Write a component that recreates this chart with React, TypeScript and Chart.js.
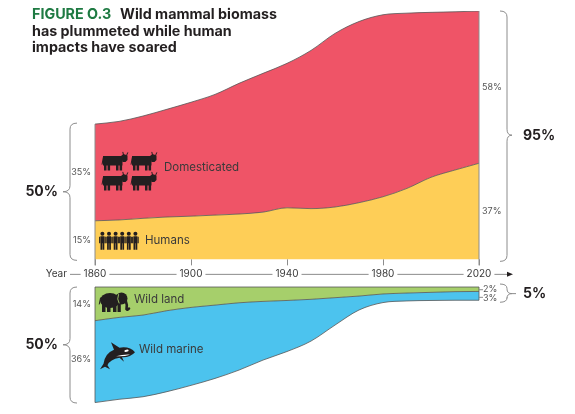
import React, { useEffect, useRef } from 'react';
import { Chart, registerables } from 'chart.js';

Chart.register(...registerables);

// ---------- DATA ----------
const years = [1860, 1870, 1880, 1890, 1900, 1910, 1920, 1930, 1940, 1950, 1960, 1970, 1980, 1990, 2000, 2010, 2020];
const humans = [14.3, 14.6, 15.2, 15.7, 16.0, 16.4, 16.8, 17.5, 19.1, 18.8, 19.4, 21.0, 23.2, 26.3, 30.4, 33.1, 35.6];
const domesticated = [35.8, 36.5, 37.9, 39.9, 42.2, 44.7, 48.4, 51.4, 53.5, 58.6, 64.3, 67.1, 67.4, 64.9, 61.1, 58.6, 56.4];
const wildLand = [14.5, 13.1, 12.1, 10.2, 8.8, 7.8, 6.8, 6.2, 5.8, 5.3, 4.6, 3.9, 3.0, 2.6, 2.3, 2.0, 1.9];
const wildMarine = [35.3, 35.3, 35.2, 34.9, 33.6, 31.6, 29.0, 25.3, 22.0, 18.0, 11.8, 6.0, 3.7, 3.4, 3.5, 3.7, 3.8];

const tickYears = [1860, 1900, 1940, 1980, 2020];
const seriesNames = ['Humans', 'Domesticated', 'Wild land', 'Wild marine'];
const share1860 = ['15%', '35%', '14%', '36%'];
const share2020 = ['37%', '58%', '2%', '3%'];
const groupTotal1860 = ['50%', '50%'];
const groupTotal2020 = ['95%', '5%'];
const titleLead = 'FIGURE O.3';
const titleLines = ['Wild mammal biomass', 'has plummeted while human', 'impacts have soared'];
const axisName = 'Year';

// ---------- STYLE ----------
const FONT = 'Inter, "Open Sans", "DejaVu Sans", sans-serif';
const C_RED = '#EF5467';
const C_YELLOW = '#FECE57';
const C_GREEN = '#A6CF6B';
const C_BLUE = '#4CC3EE';
const C_TITLE_GREEN = '#1E7A42';
const C_DARK = '#231F20';
const C_GREY = '#8C8C8C';
const C_TEXT = '#3A3A3A';
const C_OUTLINE = '#555555';

function pts(vals: number[]) {
  return years.map((y, i) => ({ x: y, y: vals[i] }));
}

function brace(ctx: CanvasRenderingContext2D, xEnd: number, xSpine: number, xTip: number, y0: number, y1: number, yTip: number) {
  const r = Math.min(6, (y1 - y0) / 4);
  ctx.beginPath();
  ctx.moveTo(xEnd, y0);
  ctx.quadraticCurveTo(xSpine, y0, xSpine, y0 + r);
  ctx.lineTo(xSpine, yTip - r);
  ctx.quadraticCurveTo(xSpine, yTip, xTip, yTip);
  ctx.quadraticCurveTo(xSpine, yTip, xSpine, yTip + r);
  ctx.lineTo(xSpine, y1 - r);
  ctx.quadraticCurveTo(xSpine, y1, xEnd, y1);
  ctx.stroke();
}

function drawCow(ctx: CanvasRenderingContext2D, x: number, y: number) {
  ctx.fillStyle = C_DARK;
  ctx.strokeStyle = C_DARK;
  ctx.beginPath();
  ctx.rect(x + 2, y + 4.5, 19.5, 9.5);
  ctx.rect(x + 3, y + 12, 2.5, 7);
  ctx.rect(x + 6.6, y + 12, 2.5, 7);
  ctx.rect(x + 15, y + 12, 2.5, 7);
  ctx.rect(x + 18.6, y + 12, 2.5, 7);
  ctx.fill();
  ctx.beginPath();
  ctx.moveTo(x + 20, y + 4.5);
  ctx.lineTo(x + 22.5, y + 2.5);
  ctx.lineTo(x + 26.5, y + 4);
  ctx.lineTo(x + 26.5, y + 8.5);
  ctx.lineTo(x + 24.5, y + 10.5);
  ctx.lineTo(x + 21.5, y + 10.5);
  ctx.closePath();
  ctx.fill();
  ctx.lineWidth = 1;
  ctx.beginPath();
  ctx.moveTo(x + 22.5, y + 3.5);
  ctx.lineTo(x + 21.8, y + 0.3);
  ctx.moveTo(x + 25.5, y + 4);
  ctx.lineTo(x + 26.8, y + 0.8);
  ctx.moveTo(x + 2.4, y + 5.5);
  ctx.lineTo(x + 1, y + 13);
  ctx.stroke();
}

function drawPerson(ctx: CanvasRenderingContext2D, x: number, y: number) {
  ctx.fillStyle = C_DARK;
  ctx.beginPath();
  ctx.arc(x + 3.4, y + 2, 2, 0, Math.PI * 2);
  ctx.fill();
  ctx.beginPath();
  ctx.rect(x + 1.4, y + 4.6, 4, 7);
  ctx.rect(x + 0.1, y + 5, 1, 6.5);
  ctx.rect(x + 5.7, y + 5, 1, 6.5);
  ctx.rect(x + 1.5, y + 11, 1.7, 7);
  ctx.rect(x + 3.6, y + 11, 1.7, 7);
  ctx.fill();
}

function drawElephant(ctx: CanvasRenderingContext2D, x: number, y: number) {
  ctx.fillStyle = C_DARK;
  ctx.strokeStyle = C_DARK;
  ctx.beginPath();
  ctx.ellipse(x + 11, y + 8.5, 10, 7.5, 0, 0, Math.PI * 2);
  ctx.fill();
  ctx.beginPath();
  ctx.rect(x + 3, y + 11, 3.5, 9);
  ctx.rect(x + 8, y + 11, 3.5, 9);
  ctx.rect(x + 14, y + 11, 3.5, 9);
  ctx.rect(x + 18.5, y + 11, 3.3, 9);
  ctx.fill();
  ctx.beginPath();
  ctx.arc(x + 22.5, y + 6.5, 6, 0, Math.PI * 2);
  ctx.fill();
  ctx.lineWidth = 2.6;
  ctx.lineCap = 'round';
  ctx.beginPath();
  ctx.moveTo(x + 26.5, y + 8);
  ctx.quadraticCurveTo(x + 28.5, y + 13, x + 27.5, y + 17);
  ctx.quadraticCurveTo(x + 28.5, y + 18.5, x + 30, y + 16.5);
  ctx.stroke();
  ctx.lineWidth = 1;
  ctx.beginPath();
  ctx.moveTo(x + 1.5, y + 6);
  ctx.lineTo(x + 0.3, y + 12);
  ctx.stroke();
  ctx.strokeStyle = C_GREEN;
  ctx.lineWidth = 0.9;
  ctx.beginPath();
  ctx.moveTo(x + 19.5, y + 2.5);
  ctx.quadraticCurveTo(x + 17.5, y + 7, x + 20, y + 11);
  ctx.stroke();
  ctx.lineCap = 'butt';
}

function drawOrca(ctx: CanvasRenderingContext2D, x: number, y: number) {
  ctx.fillStyle = C_DARK;
  ctx.beginPath();
  ctx.moveTo(x + 1, y + 27);
  ctx.lineTo(x + 4.5, y + 21.5);
  ctx.quadraticCurveTo(x + 6, y + 11, x + 15, y + 7.5);
  ctx.lineTo(x + 12, y + 0);
  ctx.lineTo(x + 20.5, y + 5.5);
  ctx.quadraticCurveTo(x + 31, y + 4, x + 36, y + 10);
  ctx.quadraticCurveTo(x + 31, y + 15.5, x + 23, y + 15);
  ctx.lineTo(x + 25, y + 19.5);
  ctx.lineTo(x + 20.5, y + 15.5);
  ctx.quadraticCurveTo(x + 11, y + 17, x + 8.5, y + 23);
  ctx.lineTo(x + 11, y + 27);
  ctx.lineTo(x + 6, y + 24.5);
  ctx.closePath();
  ctx.fill();
  ctx.fillStyle = '#FFFFFF';
  ctx.beginPath();
  ctx.ellipse(x + 27.5, y + 8.6, 2.2, 1.1, -0.2, 0, Math.PI * 2);
  ctx.fill();
  ctx.beginPath();
  ctx.moveTo(x + 31, y + 12.5);
  ctx.quadraticCurveTo(x + 25, y + 14.5, x + 17, y + 14);
  ctx.quadraticCurveTo(x + 24, y + 12.2, x + 31, y + 12.5);
  ctx.fill();
}

const overlay = {
  id: 'overlay',
  afterDatasetsDraw(chart: any) {
    const ctx: CanvasRenderingContext2D = chart.ctx;
    const xs = chart.scales.x;
    const yt = chart.scales.yTop;
    const yb = chart.scales.yBot;
    const n = years.length - 1;
    const X = (v: number) => xs.getPixelForValue(v);
    const x0 = X(years[0]);
    const x1 = X(years[n]);
    const baseTop = yt.getPixelForValue(0);
    const hum0 = yt.getPixelForValue(humans[0]);
    const tot0 = yt.getPixelForValue(humans[0] + domesticated[0]);
    const humN = yt.getPixelForValue(humans[n]);
    const totN = yt.getPixelForValue(humans[n] + domesticated[n]);
    const baseBot = yb.getPixelForValue(0);
    const land0 = yb.getPixelForValue(wildLand[0]);
    const sea0 = yb.getPixelForValue(wildLand[0] + wildMarine[0]);
    const landN = yb.getPixelForValue(wildLand[n]);
    const seaN = yb.getPixelForValue(wildLand[n] + wildMarine[n]);

    ctx.save();

    // edges of the areas
    ctx.strokeStyle = C_OUTLINE;
    ctx.lineWidth = 0.8;
    ctx.beginPath();
    ctx.moveTo(x0, baseBot);
    ctx.lineTo(x1, baseBot);
    ctx.moveTo(x0, baseBot);
    ctx.lineTo(x0, sea0);
    ctx.moveTo(x1, baseBot);
    ctx.lineTo(x1, seaN);
    ctx.stroke();

    // year axis
    const axisY = baseTop + 14.5;
    ctx.strokeStyle = C_GREY;
    ctx.lineWidth = 1;
    ctx.beginPath();
    ctx.moveTo(x0, tot0);
    ctx.lineTo(x0, baseTop + 6);
    ctx.moveTo(x1, totN);
    ctx.lineTo(x1, baseTop + 6);
    tickYears.forEach((ty) => {
      const tx = Math.round(X(ty)) + 0.5;
      ctx.moveTo(tx, baseTop);
      ctx.lineTo(tx, baseTop + 6);
    });
    ctx.stroke();

    ctx.font = `10px ${FONT}`;
    ctx.fillStyle = C_TEXT;
    ctx.textBaseline = 'middle';
    ctx.textAlign = 'right';
    ctx.fillText(axisName, 67, axisY);
    let prev = 70;
    ctx.textAlign = 'center';
    ctx.beginPath();
    tickYears.forEach((ty) => {
      const tx = X(ty);
      const w = ctx.measureText(String(ty)).width;
      ctx.fillText(String(ty), tx, axisY);
      ctx.moveTo(prev, axisY + 0.5);
      ctx.lineTo(tx - w / 2 - 3, axisY + 0.5);
      prev = tx + w / 2 + 3;
    });
    ctx.moveTo(prev, axisY + 0.5);
    ctx.lineTo(x1 + 30, axisY + 0.5);
    ctx.stroke();
    ctx.fillStyle = C_DARK;
    ctx.beginPath();
    ctx.moveTo(x1 + 34, axisY + 0.5);
    ctx.lineTo(x1 + 28, axisY - 2);
    ctx.lineTo(x1 + 28, axisY + 3);
    ctx.closePath();
    ctx.fill();

    // braces
    ctx.strokeStyle = C_GREY;
    ctx.lineWidth = 1;
    brace(ctx, 77, 70, 63, tot0 - 1, baseTop + 1, (tot0 + baseTop) / 2);
    brace(ctx, 77, 70, 63, baseBot, sea0 + 0.5, (baseBot + sea0) / 2);
    brace(ctx, x1 + 21, x1 + 28, x1 + 33, totN, baseTop + 2, (totN + baseTop) / 2);
    brace(ctx, x1 + 21, x1 + 28, x1 + 33, baseBot - 3, seaN + 2, (baseBot + seaN) / 2);
    ctx.beginPath();
    ctx.moveTo(x1 + 33, (baseBot + seaN) / 2);
    ctx.lineTo(x1 + 37, (baseBot + seaN) / 2);
    ctx.moveTo(x1, (baseBot + landN) / 2 + 0.5);
    ctx.lineTo(x1 + 4, (baseBot + landN) / 2 + 0.5);
    ctx.moveTo(x1, (landN + seaN) / 2 + 1.5);
    ctx.lineTo(x1 + 4, (landN + seaN) / 2 + 1.5);
    ctx.stroke();

    // share labels
    ctx.font = `9px ${FONT}`;
    ctx.fillStyle = '#555555';
    ctx.textAlign = 'right';
    ctx.fillText(share1860[0], x0 - 4, (hum0 + baseTop) / 2);
    ctx.fillText(share1860[1], x0 - 4, (tot0 + hum0) / 2);
    ctx.fillText(share1860[2], x0 - 4, (baseBot + land0) / 2);
    ctx.fillText(share1860[3], x0 - 4, (land0 + sea0) / 2 - 2);
    ctx.textAlign = 'left';
    ctx.fillText(share2020[0], x1 + 3, (humN + baseTop) / 2);
    ctx.fillText(share2020[1], x1 + 3, (totN + humN) / 2);
    ctx.fillText(share2020[2], x1 + 4, (baseBot + landN) / 2);
    ctx.fillText(share2020[3], x1 + 4, (landN + seaN) / 2 + 2);

    // group totals
    ctx.font = `bold 14px ${FONT}`;
    ctx.fillStyle = C_DARK;
    ctx.textAlign = 'right';
    ctx.fillText(groupTotal1860[0], 58, (tot0 + baseTop) / 2 + 0.5);
    ctx.fillText(groupTotal1860[1], 58, (baseBot + sea0) / 2 + 0.5);
    ctx.textAlign = 'left';
    ctx.fillText(groupTotal2020[0], x1 + 44, (totN + baseTop) / 2 + 0.5);
    ctx.fillText(groupTotal2020[1], x1 + 44, (baseBot + seaN) / 2 + 0.5);

    // series names
    ctx.font = `11.5px ${FONT}`;
    ctx.fillStyle = C_TEXT;
    ctx.textAlign = 'left';
    ctx.fillText(seriesNames[0], x0 + 50, (hum0 + baseTop) / 2);
    ctx.fillText(seriesNames[1], x0 + 69, (tot0 + hum0) / 2 - 5);
    ctx.fillText(seriesNames[2], x0 + 39, (baseBot + land0) / 2 - 4.5);
    ctx.fillText(seriesNames[3], x0 + 44, (land0 + sea0) / 2 - 12);

    // icons
    drawCow(ctx, x0 + 6, tot0 + 27.5);
    drawCow(ctx, x0 + 35, tot0 + 27.5);
    drawCow(ctx, x0 + 6, tot0 + 47.5);
    drawCow(ctx, x0 + 35, tot0 + 47.5);
    for (let i = 0; i < 6; i++) drawPerson(ctx, x0 + 4 + i * 6.6, hum0 + 11);
    drawElephant(ctx, x0 + 4, baseBot + 5);
    drawOrca(ctx, x0 + 4, land0 + 21.5);

    // title
    ctx.textBaseline = 'alphabetic';
    ctx.textAlign = 'left';
    ctx.font = `bold 14.3px ${FONT}`;
    ctx.fillStyle = C_TITLE_GREEN;
    ctx.fillText(titleLead, 32, 19);
    const lw = ctx.measureText(titleLead).width;
    ctx.fillStyle = C_DARK;
    ctx.fillText(titleLines[0], 32 + lw + 9, 19);
    ctx.fillText(titleLines[1], 32, 35.7);
    ctx.fillText(titleLines[2], 32, 52.3);

    ctx.restore();
  },
};

export default function App() {
  const ref = useRef<HTMLCanvasElement | null>(null);
  useEffect(() => {
    if (!ref.current) return;
    const ds = (label: string, vals: number[], axis: string, color: string, fill: any) => ({
      label,
      data: pts(vals),
      yAxisID: axis,
      backgroundColor: color,
      borderColor: C_OUTLINE,
      borderWidth: 0.8,
      pointRadius: 0,
      fill,
      cubicInterpolationMode: 'monotone' as const,
    });
    const chart = new Chart(ref.current, {
      type: 'line',
      data: {
        datasets: [
          ds(seriesNames[0], humans, 'yTop', C_YELLOW, 'origin'),
          ds(seriesNames[1], domesticated, 'yTop', C_RED, '-1'),
          ds(seriesNames[2], wildLand, 'yBot', C_GREEN, 'origin'),
          ds(seriesNames[3], wildMarine, 'yBot', C_BLUE, '-1'),
        ],
      },
      options: {
        responsive: false,
        animation: false,
        events: [],
        layout: { padding: { left: 95, right: 96, top: 11, bottom: 11 } },
        plugins: { legend: { display: false }, tooltip: { enabled: false }, title: { display: false } },
        scales: {
          x: { type: 'linear', min: 1860, max: 2020, display: false },
          yTop: { type: 'linear', stacked: true, min: -53.2, max: 92, display: false },
          yBot: { type: 'linear', stacked: true, reverse: true, min: -119, max: 50, display: false },
        },
      },
      plugins: [overlay],
    });
    return () => chart.destroy();
  }, []);
  return (
    <div style={{ position: 'absolute', left: 0, top: 0, width: 575, height: 414, background: '#fff' }}>
      <canvas ref={ref} width={575} height={414} style={{ display: 'block', width: 575, height: 414 }} />
    </div>
  );
}
